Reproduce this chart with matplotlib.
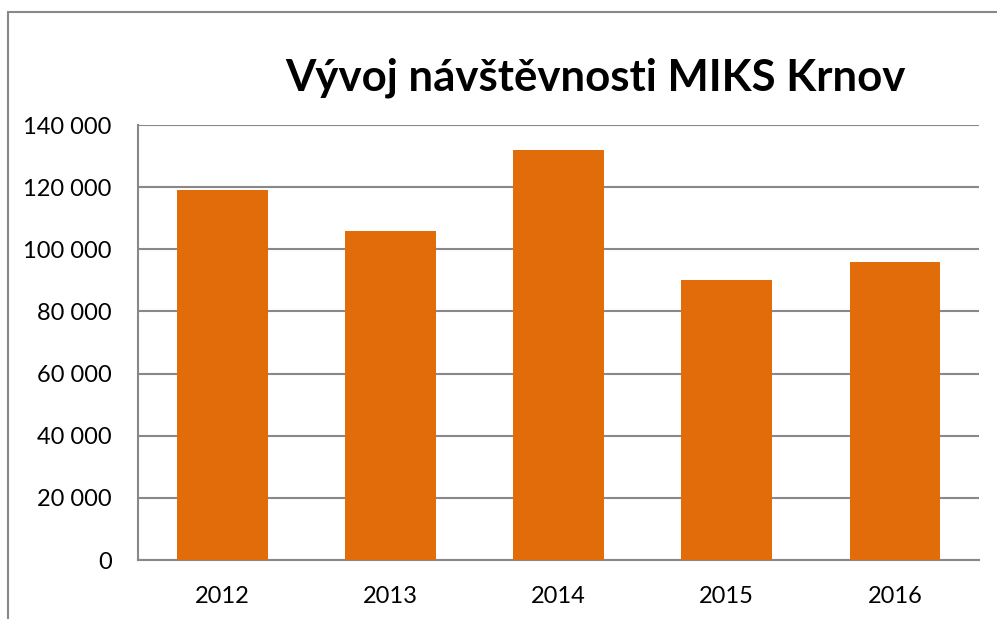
import matplotlib
matplotlib.use('Agg')
import matplotlib.pyplot as plt
from matplotlib.patches import Rectangle
from matplotlib.ticker import FuncFormatter

years = ['2012', '2013', '2014', '2015', '2016']
visitors = [119000, 106000, 132000, 90000, 96000]

plt.rcParams['font.family'] = ['Lato', 'DejaVu Sans']

fig = plt.figure(figsize=(9.97, 6.19), dpi=100)
ax = fig.add_axes([0.1384, 0.0953, 0.982 - 0.1384, 0.798 - 0.0953])

# outer chart frame (only left and top edges visible in the crop)
fig.patches.append(Rectangle((8 / 997, -0.1), 1.2, 1 - 12 / 619 + 0.1,
                             transform=fig.transFigure, fill=False,
                             edgecolor='#888888', linewidth=1.5))

ax.bar(range(len(years)), visitors, width=0.54, color='#E36C0A', zorder=3)

ax.set_xlim(-0.5, len(years) - 0.5)
ax.set_ylim(0, 140000)
ax.set_yticks(range(0, 140001, 20000))
ax.yaxis.set_major_formatter(FuncFormatter(lambda v, p: f'{int(v):,}'.replace(',', ' ')))
ax.set_xticks(range(len(years)))
ax.set_xticklabels(years)

ax.grid(axis='y', color='#888888', linewidth=1.5, zorder=0)
for s in ['top', 'right']:
    ax.spines[s].set_visible(False)
ax.spines['left'].set_color('#888888')
ax.spines['left'].set_linewidth(1.5)
ax.spines['bottom'].set_color('#888888')
ax.spines['bottom'].set_linewidth(1.5)
ax.tick_params(axis='both', length=0, labelsize=17)
ax.tick_params(axis='y', pad=19)
ax.tick_params(axis='x', pad=19)

fig.text(0.5977, 1 - 78 / 619, 'Vývoj návštěvnosti MIKS Krnov', ha='center', va='center',
         fontsize=31.5, fontweight='bold')

fig.savefig('out.png', dpi=100)
